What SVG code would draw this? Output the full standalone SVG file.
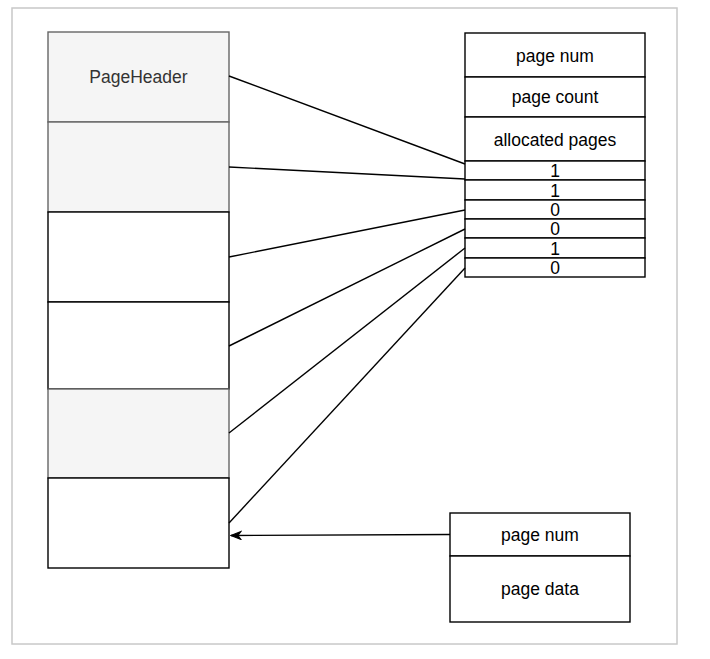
<svg xmlns="http://www.w3.org/2000/svg" width="710" height="659" viewBox="0 0 710 659">
  <style>
    .frame { fill: #ffffff; stroke: #c8c8c8; stroke-width: 1.5; }
    .gray { fill: #f5f5f5; stroke: #666666; stroke-width: 1.4; }
    .cell { fill: #ffffff; stroke: #000000; stroke-width: 1.4; }
    .lbl { font-family: "Liberation Sans", Arial, sans-serif; font-size: 17.5px; fill: #000000; text-anchor: middle; dominant-baseline: central; }
    .lbl-gray { fill: #333333; }
    .conn { fill: none; stroke: #000000; stroke-width: 1.4; }
  </style>
  <defs>
    <marker id="arrow" viewBox="0 0 12 10" refX="11" refY="5" markerWidth="12" markerHeight="10" markerUnits="userSpaceOnUse" orient="auto">
      <path d="M1,1 L11,5 L1,9 L4,5 Z" fill="#000000" stroke="#000000" stroke-width="1"/>
    </marker>
  </defs>

  <rect class="frame" x="12" y="8" width="665" height="636"/>

  <!-- page array -->
  <g id="page-array">
    <g id="page-0">
      <rect class="gray" x="48" y="32" width="181" height="90"/>
      <text class="lbl lbl-gray" x="138.5" y="77">PageHeader</text>
    </g>
    <g id="page-1"><rect class="gray" x="48" y="122" width="181" height="90"/></g>
    <g id="page-2"><rect class="cell" x="48" y="212" width="181" height="90"/></g>
    <g id="page-3"><rect class="cell" x="48" y="302" width="181" height="87"/></g>
    <g id="page-4"><rect class="gray" x="48" y="389" width="181" height="89"/></g>
    <g id="page-5"><rect class="cell" x="48" y="478" width="181" height="90"/></g>
  </g>

  <!-- header structure -->
  <g id="header-table">
    <rect class="cell" x="465" y="33" width="180" height="44"/>
    <text class="lbl" x="555" y="56">page num</text>
    <rect class="cell" x="465" y="77" width="180" height="40"/>
    <text class="lbl" x="555" y="97">page count</text>
    <rect class="cell" x="465" y="117" width="180" height="44"/>
    <text class="lbl" x="555" y="140">allocated pages</text>
    <rect class="cell" x="465" y="161" width="180" height="19"/>
    <text class="lbl" x="555" y="171">1</text>
    <rect class="cell" x="465" y="180" width="180" height="20"/>
    <text class="lbl" x="555" y="190.5">1</text>
    <rect class="cell" x="465" y="200" width="180" height="19"/>
    <text class="lbl" x="555" y="210">0</text>
    <rect class="cell" x="465" y="219" width="180" height="19"/>
    <text class="lbl" x="555" y="229">0</text>
    <rect class="cell" x="465" y="238" width="180" height="20"/>
    <text class="lbl" x="555" y="248.5">1</text>
    <rect class="cell" x="465" y="258" width="180" height="19"/>
    <text class="lbl" x="555" y="268">0</text>
  </g>

  <!-- page record -->
  <g id="page-record">
    <rect class="cell" x="450" y="513" width="180" height="43"/>
    <text class="lbl" x="540" y="535">page num</text>
    <rect class="cell" x="450" y="556" width="180" height="66"/>
    <text class="lbl" x="540" y="589">page data</text>
  </g>

  <!-- connectors -->
  <g id="connectors">
    <line class="conn" x1="229" y1="76" x2="465" y2="164"/>
    <line class="conn" x1="229" y1="167" x2="465" y2="179"/>
    <line class="conn" x1="229" y1="257" x2="465" y2="210"/>
    <line class="conn" x1="229" y1="346" x2="465" y2="229"/>
    <line class="conn" x1="229" y1="433" x2="465" y2="248"/>
    <line class="conn" x1="229" y1="523" x2="465" y2="268"/>
    <line class="conn" x1="450" y1="534.5" x2="231" y2="535.5" marker-end="url(#arrow)"/>
  </g>
</svg>
